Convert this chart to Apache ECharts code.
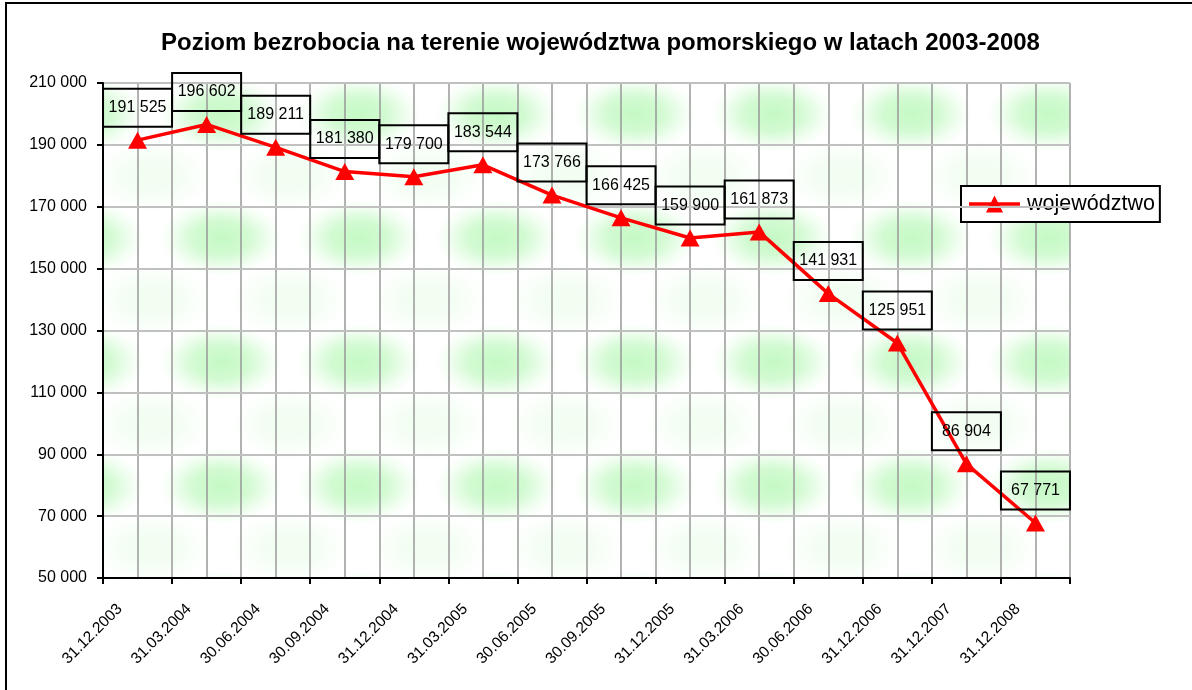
<!DOCTYPE html>
<html>
<head>
<meta charset="utf-8">
<script src="https://cdn.jsdelivr.net/npm/echarts@6/dist/echarts.min.js"></script>
<style>
  html, body { margin: 0; padding: 0; background: #fff; }
  #chart { width: 1192px; height: 690px; }
</style>
</head>
<body>
<div id="chart"></div>
<script>
// dane: poziom bezrobocia (liczba osób)
const categories = ['31.12.2003', '31.03.2004', '30.06.2004', '30.09.2004', '31.12.2004',
  '31.03.2005', '30.06.2005', '30.09.2005', '31.12.2005', '31.03.2006',
  '30.06.2006', '31.12.2006', '31.12.2007', '31.12.2008'];
const values = [191525, 196602, 189211, 181380, 179700, 183544, 173766,
  166425, 159900, 161873, 141931, 125951, 86904, 67771];
const seriesName = 'województwo';
const yMin = 50000, yMax = 210000, yStep = 20000;

const FONT = '"Liberation Sans", Arial, sans-serif';

// 1 234 -> "1 234"
function fmt(v) {
  return String(v).replace(/\B(?=(\d{3})+(?!\d))/g, ' ');
}

// tekstura tla (zielone plamy)
function makeTile() {
  const w = 138, h = 124;
  const c = document.createElement('canvas');
  c.width = w; c.height = h;
  const ctx = c.getContext('2d');
  ctx.fillStyle = '#fff';
  ctx.fillRect(0, 0, w, h);
  const blob = (cx, cy, a) => {
    ctx.save();
    ctx.translate(cx, cy);
    ctx.scale(1, 0.62);
    const g = ctx.createRadialGradient(0, 0, 0, 0, 0, 62);
    g.addColorStop(0, 'rgba(196,249,196,' + a + ')');
    g.addColorStop(0.45, 'rgba(196,249,196,' + (a * 0.75) + ')');
    g.addColorStop(0.8, 'rgba(196,249,196,' + (a * 0.2) + ')');
    g.addColorStop(1, 'rgba(196,249,196,0)');
    ctx.fillStyle = g;
    ctx.fillRect(-62, -62, 124, 124);
    ctx.restore();
  };
  for (let i = -1; i <= 1; i++) {
    for (let j = -1; j <= 1; j++) {
      blob(83 + i * w, 114 + j * h, 1);
      blob(152 - w + i * w, 52 + j * h, 0.25);
    }
  }
  return c;
}

const halfCats = [];
for (let c of categories) {
  halfCats.push(c + '_a', c + '_b');
}

// ikona legendy: linia z trojkatem (51 x 17)
const legendIcon = 'path://M0,6.75L51,6.75L51,10.25L0,10.25Z M25.5,0L34,17L17,17Z';

const chart = echarts.init(document.getElementById('chart'));
chart.setOption({
  animation: false,
  backgroundColor: '#fff',
  textStyle: { fontFamily: FONT },
  title: {
    text: 'Poziom bezrobocia na terenie województwa pomorskiego w latach 2003-2008',
    left: 156,
    top: 26,
    textStyle: { fontSize: 24, fontWeight: 'bold', color: '#000', fontFamily: FONT }
  },
  legend: {
    left: 961,
    top: 186,
    orient: 'vertical',
    padding: [7, 5, 7, 8],
    borderColor: '#000',
    borderWidth: 2,
    borderRadius: 0,
    backgroundColor: '#fff',
    itemWidth: 51,
    itemHeight: 17,
    icon: legendIcon,
    itemStyle: { color: '#ff0000' },
    textStyle: { fontSize: 21.5, color: '#000', fontFamily: FONT, padding: [0, 0, 0, 2] },
    data: [seriesName]
  },
  graphic: [{
    type: 'rect',
    shape: { x: 6, y: 3, width: 1200, height: 700 },
    style: { fill: 'none', stroke: '#000', lineWidth: 2 },
    silent: true
  }],
  grid: {
    left: 103, right: 122, top: 83, bottom: 112,
    show: true,
    borderWidth: 0,
    backgroundColor: { image: makeTile(), repeat: 'repeat' },
    outerBoundsMode: 'none'
  },
  xAxis: [{
    type: 'category',
    data: categories,
    boundaryGap: true,
    axisLine: { lineStyle: { color: '#000', width: 2 } },
    axisTick: { show: true, length: 6, lineStyle: { color: '#000', width: 2 } },
    axisLabel: {
      interval: 0, rotate: 45, margin: 11, padding: [0, 25, 0, 0],
      fontSize: 15.5, color: '#000', fontFamily: FONT
    },
    splitLine: { show: false },
    z: 5
  }, {
    // pomocnicza os: pionowe linie siatki co pol kategorii
    type: 'category',
    data: halfCats,
    boundaryGap: true,
    position: 'bottom',
    axisLine: { show: false },
    axisTick: { show: false },
    axisLabel: { show: false },
    splitLine: { show: true, interval: 0, lineStyle: { color: '#999', width: 1.5 } }
  }],
  yAxis: {
    type: 'value',
    min: yMin, max: yMax, interval: yStep,
    axisLine: { show: true, lineStyle: { color: '#000', width: 2 } },
    axisTick: { show: true, length: 6, lineStyle: { color: '#000', width: 2 } },
    axisLabel: { formatter: fmt, fontSize: 16, color: '#000', margin: 16, fontFamily: FONT },
    splitLine: { show: true, lineStyle: { color: '#c0c0c0', width: 2 } },
    z: 5
  },
  series: [{
    name: seriesName,
    type: 'line',
    xAxisIndex: 0,
    data: values,
    symbol: 'triangle',
    symbolSize: [19, 17],
    showAllSymbol: true,
    itemStyle: { color: '#ff0000' },
    lineStyle: { color: '#ff0000', width: 3.5 },
    z: 10,
    label: {
      show: true,
      position: 'top',
      distance: 5,
      formatter: p => fmt(p.value),
      fontSize: 16,
      color: '#000',
      fontFamily: FONT,
      width: 69,
      lineHeight: 18,
      align: 'center',
      padding: [10, 0],
      borderColor: '#000',
      borderWidth: 2
    }
  }]
});
</script>
</body>
</html>
